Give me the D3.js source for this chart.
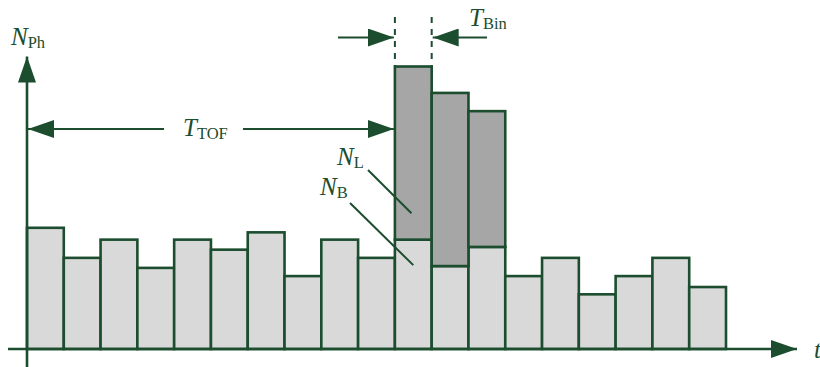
<!DOCTYPE html>
<html>
<head>
<meta charset="utf-8" />
<title>Photon histogram</title>
<script src="https://d3js.org/d3.v7.min.js"></script>
<style>
  body { margin: 0; background: #fff; }
  .lbl { font-family: "Liberation Serif", "DejaVu Serif", serif; fill: #1b4d2e; }
</style>
</head>
<body>
<svg width="820" height="367"></svg>
<script>
// counts per time bin (background part and extra signal part)
var background = [13.3, 10, 12, 8.9, 12, 10.9, 12.8, 8, 12, 10, 12, 9.1, 11.2, 8, 10, 6, 8, 10, 6.8];
var signal     = [0, 0, 0, 0, 0, 0, 0, 0, 0, 0, 19, 19, 14.9, 0, 0, 0, 0, 0, 0];
var bins = d3.range(background.length);

var green = "#1b4d2e";

var svg = d3.select("svg");

var x = d3.scaleLinear().domain([0, bins.length]).range([27, 726]);
var y = d3.scaleLinear().domain([0, 31]).range([349, 66.5]);

// arrow heads
var defs = svg.append("defs");
defs.append("marker")
    .attr("id", "head")
    .attr("markerUnits", "userSpaceOnUse")
    .attr("viewBox", "0 0 26 18")
    .attr("refX", 26).attr("refY", 9)
    .attr("markerWidth", 26).attr("markerHeight", 18)
    .attr("orient", "auto-start-reverse")
    .append("path")
    .attr("d", "M0,0 L26,9 L0,18 Z")
    .attr("fill", green);

// background bars
svg.append("g").selectAll("rect")
    .data(bins)
    .enter().append("rect")
    .attr("x", function (i) { return x(i); })
    .attr("y", function (i) { return y(background[i]); })
    .attr("width", x(1) - x(0))
    .attr("height", function (i) { return y(0) - y(background[i]); })
    .attr("fill", "#d9d9d9")
    .attr("stroke", green)
    .attr("stroke-width", 2.6);

// signal on top
svg.append("g").selectAll("rect")
    .data(bins.filter(function (i) { return signal[i] > 0; }))
    .enter().append("rect")
    .attr("x", function (i) { return x(i); })
    .attr("y", function (i) { return y(background[i] + signal[i]); })
    .attr("width", x(1) - x(0))
    .attr("height", function (i) { return y(background[i]) - y(background[i] + signal[i]); })
    .attr("fill", "#a6a6a6")
    .attr("stroke", green)
    .attr("stroke-width", 2.6);

// axes
svg.append("line")
    .attr("x1", 8).attr("x2", 797)
    .attr("y1", y(0)).attr("y2", y(0))
    .attr("stroke", green).attr("stroke-width", 2.6)
    .attr("marker-end", "url(#head)");
svg.append("line")
    .attr("x1", x(0)).attr("x2", x(0))
    .attr("y1", 367).attr("y2", 56.5)
    .attr("stroke", green).attr("stroke-width", 2.6)
    .attr("marker-end", "url(#head)");

// T_TOF arrows
var peak = bins.filter(function (i) { return signal[i] > 0; })[0];
var yTof = 129;
svg.append("line")
    .attr("x1", 164).attr("x2", x(0) + 1)
    .attr("y1", yTof).attr("y2", yTof)
    .attr("stroke", green).attr("stroke-width", 2.2)
    .attr("marker-end", "url(#head)");
svg.append("line")
    .attr("x1", 243).attr("x2", x(peak) - 1)
    .attr("y1", yTof).attr("y2", yTof)
    .attr("stroke", green).attr("stroke-width", 2.2)
    .attr("marker-end", "url(#head)");

// T_Bin markers
var yBin = 37.5;
[peak, peak + 1].forEach(function (i) {
    svg.append("line")
        .attr("x1", x(i)).attr("x2", x(i))
        .attr("y1", 17).attr("y2", y(background[peak] + signal[peak]))
        .attr("stroke", green).attr("stroke-width", 2)
        .attr("stroke-dasharray", "6,6");
});
svg.append("line")
    .attr("x1", 338).attr("x2", x(peak) - 1)
    .attr("y1", yBin).attr("y2", yBin)
    .attr("stroke", green).attr("stroke-width", 2.2)
    .attr("marker-end", "url(#head)");
svg.append("line")
    .attr("x1", 487).attr("x2", x(peak + 1) + 1)
    .attr("y1", yBin).attr("y2", yBin)
    .attr("stroke", green).attr("stroke-width", 2.2)
    .attr("marker-end", "url(#head)");

// leader lines
svg.append("line")
    .attr("x1", 368).attr("y1", 170)
    .attr("x2", x(peak + 0.45)).attr("y2", y(14.9))
    .attr("stroke", green).attr("stroke-width", 2);
svg.append("line")
    .attr("x1", 350).attr("y1", 203)
    .attr("x2", x(peak + 0.5)).attr("y2", y(9.2))
    .attr("stroke", green).attr("stroke-width", 2);

// labels
function label(px, py, main, sub) {
    var t = svg.append("text").attr("class", "lbl")
        .attr("x", px).attr("y", py);
    t.append("tspan").attr("font-style", "italic").attr("font-size", 25).text(main);
    if (sub) {
        t.append("tspan").attr("font-size", 16.5).attr("dy", 3).text(sub);
    }
}
label(11, 45, "N", "Ph");
label(183, 136, "T", "TOF");
label(469, 26, "T", "Bin");
label(337, 165, "N", "L");
label(320, 195, "N", "B");
label(814, 358, "t");
</script>
</body>
</html>
